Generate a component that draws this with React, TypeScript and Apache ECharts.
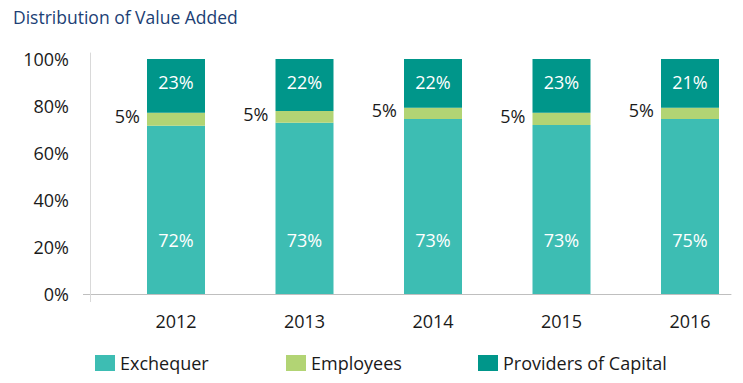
import React, { useEffect, useRef } from "react";
import * as echarts from "echarts";

const years = ["2012", "2013", "2014", "2015", "2016"];
const exchequer = [71.6, 72.9, 74.5, 71.9, 74.5];
const employees = [5.5, 5.0, 4.8, 5.2, 4.8];
const providers = [22.9, 22.1, 20.7, 22.9, 20.7];
const exchequerLabels = ["72%", "73%", "73%", "73%", "75%"];
const employeesLabels = ["5%", "5%", "5%", "5%", "5%"];
const providersLabels = ["23%", "22%", "22%", "23%", "21%"];

const FONT = "'Open Sans', sans-serif";
const C_EXCH = "#3dbdb3";
const C_EMP = "#b2d474";
const C_PROV = "#00968a";

export default function App() {
  const ref = useRef<HTMLDivElement>(null);
  useEffect(() => {
    document.body.style.margin = "0";
    const chart = echarts.init(ref.current!, undefined, { renderer: "svg" });
    const legendCommon = {
      orient: "horizontal",
      top: 349,
      itemWidth: 20,
      itemHeight: 16,
      icon: "rect",
      textStyle: { fontFamily: FONT, fontSize: 18, color: "#1a1a1a" },
    };
    chart.setOption({
      animation: false,
      backgroundColor: "#ffffff",
      title: {
        text: "Distribution of Value Added",
        left: 13,
        top: 8,
        padding: 0,
        textStyle: { fontFamily: FONT, fontSize: 17.5, fontWeight: "normal", color: "#1c3f75" },
      },
      legend: [
        { ...legendCommon, left: 90, data: ["Exchequer"] },
        { ...legendCommon, left: 281, data: ["Employees"] },
        { ...legendCommon, left: 473, data: ["Providers of Capital"] },
      ],
      grid: [
        { left: 176, width: 514, top: 59, height: 235 },
        { left: 90, right: 12, top: 53, height: 241 },
      ],
      xAxis: [
        {
          type: "category",
          gridIndex: 0,
          data: years,
          boundaryGap: false,
          axisLine: { show: false },
          axisTick: { show: false },
          axisLabel: { fontFamily: FONT, fontSize: 18, color: "#1a1a1a", margin: 18 },
        },
        {
          type: "value",
          gridIndex: 1,
          min: 0,
          max: 1,
          axisLine: { show: true, lineStyle: { color: "#bfbfbf", width: 1 } },
          axisTick: { show: true, customValues: [0], length: 8, lineStyle: { color: "#d9d9d9" } },
          axisLabel: { show: false },
          splitLine: { show: false },
        },
      ],
      yAxis: [
        {
          type: "value",
          gridIndex: 0,
          min: 0,
          max: 100,
          interval: 20,
          offset: 86,
          axisLine: { show: false },
          axisTick: { show: false },
          splitLine: { show: false },
          axisLabel: {
            fontFamily: FONT,
            fontSize: 18,
            color: "#1a1a1a",
            margin: 21,
            formatter: "{value}%",
          },
        },
        {
          type: "value",
          gridIndex: 1,
          min: 0,
          max: 102.55,
          axisLine: { show: true, lineStyle: { color: "#d9d9d9", width: 1 } },
          axisTick: { show: true, customValues: [0], length: 7, lineStyle: { color: "#bfbfbf" } },
          axisLabel: { show: false },
          splitLine: { show: false },
        },
      ],
      series: [
        {
          name: "Exchequer",
          type: "bar",
          stack: "total",
          xAxisIndex: 0,
          yAxisIndex: 0,
          barWidth: 58,
          clip: false,
          data: exchequer,
          itemStyle: { color: C_EXCH },
          label: {
            show: true,
            position: "insideBottom",
            distance: 45,
            fontFamily: FONT,
            fontSize: 18,
            color: "#ffffff",
            formatter: (p: any) => exchequerLabels[p.dataIndex],
          },
        },
        {
          name: "Employees",
          type: "bar",
          stack: "total",
          xAxisIndex: 0,
          yAxisIndex: 0,
          barWidth: 58,
          clip: false,
          data: employees,
          itemStyle: { color: C_EMP },
          label: {
            show: true,
            position: "left",
            distance: 7,
            offset: [0, -3],
            fontFamily: FONT,
            fontSize: 18,
            color: "#1a1a1a",
            formatter: (p: any) => employeesLabels[p.dataIndex],
          },
        },
        {
          name: "Providers of Capital",
          type: "bar",
          stack: "total",
          xAxisIndex: 0,
          yAxisIndex: 0,
          barWidth: 58,
          clip: false,
          data: providers,
          itemStyle: { color: C_PROV },
          label: {
            show: true,
            position: "insideTop",
            distance: 14,
            fontFamily: FONT,
            fontSize: 18,
            color: "#ffffff",
            formatter: (p: any) => providersLabels[p.dataIndex],
          },
        },
      ],
    });
    return () => chart.dispose();
  }, []);
  return <div ref={ref} style={{ width: 743, height: 383 }} />;
}
